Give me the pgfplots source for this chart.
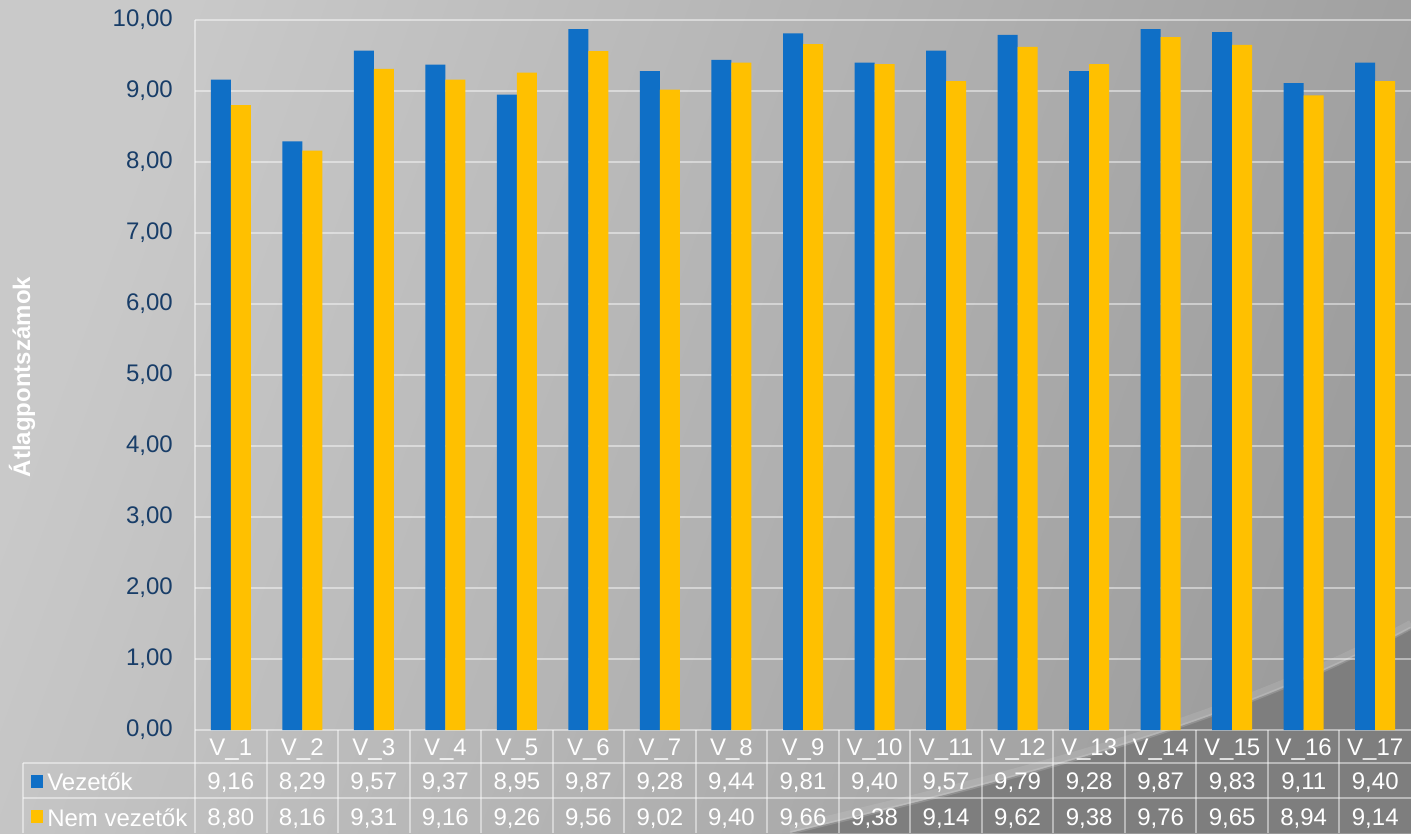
\documentclass[border=0pt]{standalone}
\usepackage{fontspec}
\setmainfont{Liberation Sans}
\usepackage{pgfplots}
\pgfplotsset{compat=1.18}
\usepackage{pgfplotstable}

\definecolor{barblue}{HTML}{0F6FC6}
\definecolor{baryellow}{HTML}{FFC000}
\definecolor{ticknavy}{HTML}{183D68}
\definecolor{bglight}{HTML}{C9C9C9}
\definecolor{bgmid}{HTML}{ABABAB}
\definecolor{bgdark}{HTML}{9D9D9D}
\definecolor{swoosh}{HTML}{7E7E7E}

% x: category index, a: Vezetők, b: Nem vezetők
\pgfplotstableread{
x a b
0 9.16 8.80
1 8.29 8.16
2 9.57 9.31
3 9.37 9.16
4 8.95 9.26
5 9.87 9.56
6 9.28 9.02
7 9.44 9.40
8 9.81 9.66
9 9.40 9.38
10 9.57 9.14
11 9.79 9.62
12 9.28 9.38
13 9.87 9.76
14 9.83 9.65
15 9.11 8.94
16 9.40 9.14
}\scores

\begin{document}
\fontsize{18}{21}\selectfont
\begin{tikzpicture}
% backdrop (pixel grid, origin top left)
\begin{scope}[x=0.75pt, y=-0.75pt, yshift=624.75pt]
  \shade[top color=bglight, middle color=bgmid, bottom color=bgdark, shading angle=70]
    (0,0) rectangle (1411,833);
  \fill[swoosh] (790,833) .. controls (1000,782) and (1220,730) .. (1411,628)
    -- (1411,833) -- cycle;
  \draw[white, opacity=0.10, line width=6pt]
    (790,829) .. controls (1000,778) and (1220,726) .. (1411,624);
  \draw[white, opacity=0.15, line width=2.5pt]
    (790,833) .. controls (1000,782) and (1220,730) .. (1411,628);
\end{scope}

\begin{axis}[
  at={(146.25pt,77.25pt)}, anchor=south west,
  width=912pt, height=532.5pt, scale only axis,
  xmin=-0.5, xmax=16.5, ymin=0, ymax=10,
  clip=false,
  axis line style={draw=none},
  major tick length=0pt,
  ytick={0,1,...,10},
  xtick={0,1,...,16},
  xticklabels={V\_1,V\_2,V\_3,V\_4,V\_5,V\_6,V\_7,V\_8,V\_9,V\_10,V\_11,V\_12,V\_13,V\_14,V\_15,V\_16,V\_17},
  ymajorgrids,
  grid style={draw=white, opacity=0.45, line width=1.5pt},
  /pgf/number format/use comma,
  /pgf/number format/fixed,
  /pgf/number format/fixed zerofill,
  /pgf/number format/precision=2,
  /pgf/number format/assume math mode=true,
  yticklabel style={text=ticknavy, inner sep=0pt, anchor=east, xshift=-16.5pt},
  xticklabel style={text=white, inner sep=0pt, anchor=base, yshift=-18.75pt},
]
\addplot[ybar, bar width=15pt, bar shift=-7.5pt, fill=barblue, draw=none]
  table[x=x, y=a] {\scores};
\addplot[ybar, bar width=15pt, bar shift=7.5pt, fill=baryellow, draw=none]
  table[x=x, y=b] {\scores};
% value rows of the data table
\addplot[draw=none, mark=none, nodes near coords, point meta=\thisrow{a},
  every node near coord/.append style={anchor=base, text=white, inner sep=0pt}]
  table[x=x, y expr=-0.845] {\scores};
\addplot[draw=none, mark=none, nodes near coords, point meta=\thisrow{b},
  every node near coord/.append style={anchor=base, text=white, inner sep=0pt}]
  table[x=x, y expr=-1.352] {\scores};
\end{axis}

\begin{scope}[x=0.75pt, y=-0.75pt, yshift=624.75pt]
  % table rules
  \begin{scope}[draw=white, opacity=0.45, line width=1.5pt]
    \draw (195,20) -- (195,833);
    \draw (23,763) -- (1411,763);
    \draw (23,798) -- (1411,798);
    \draw (23,763) -- (23,833);
    \foreach \k in {1,...,16} {
      \draw ({195+71.5294*\k},730) -- ({195+71.5294*\k},833);
    }
  \end{scope}
  % row headers
  \fill[barblue] (31,775) rectangle (43,788);
  \node[anchor=base west, text=white, inner sep=0pt] at (47,790) {Vezetők};
  \fill[baryellow] (31,810) rectangle (43,823);
  \node[anchor=base west, text=white, inner sep=0pt] at (47,826) {Nem vezetők};
  % axis title
  \node[rotate=90, text=white, font=\bfseries, inner sep=0pt] at (22,377) {Átlagpontszámok};
\end{scope}

\pgfresetboundingbox
\path (0,0) rectangle (1058.25pt,624.75pt);
\end{tikzpicture}
\end{document}
